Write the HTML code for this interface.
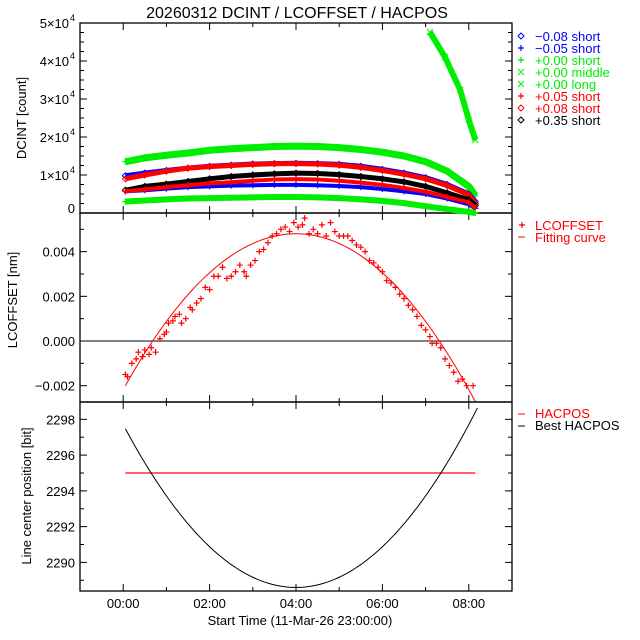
<!DOCTYPE html>
<html><head><meta charset="utf-8"><style>
body{margin:0;background:#fff}
svg{display:block;font-family:"Liberation Sans",sans-serif}
</style></head><body>
<svg id="c" width="640" height="640" xmlns="http://www.w3.org/2000/svg"></svg>
<script>
// ---- data ----
const dcHours=[0.05,0.5,1,1.5,2,2.5,3,3.5,4,4.5,5,5.5,6,6.5,7,7.5,8,8.15];
const dcGreenShort=[13.5,14.5,15.2,15.8,16.5,16.9,17.2,17.5,17.6,17.5,17.2,16.7,16,15,13.5,11,7,4.5];
const dcBlueDiamond=[9.8,10.5,11.2,11.8,12.3,12.6,12.9,13,13.1,13,12.8,12.3,11.5,10.5,9.3,7.5,5,3];
const dcRedDiamond=[9,10,11,11.8,12.2,12.5,12.8,13,13,12.9,12.6,12,11.2,10.2,9,7.2,4.8,2.5];
const dcBlack=[6,7,7.6,8.3,9,9.6,10,10.3,10.5,10.4,10.1,9.6,9,8.2,7,5.3,3.5,2];
const dcRedPlus=[5.7,6.2,6.8,7.3,7.8,8.1,8.5,8.8,8.9,8.8,8.5,8,7.4,6.6,5.6,4.2,2.8,1.3];
const dcBluePlus=[5.7,6,6.4,6.8,7,7.2,7.3,7.4,7.4,7.3,7.1,6.8,6.3,5.7,5,3.8,2.3,1.2];
const dcGreenLow=[3,3.3,3.6,3.8,3.9,4,4.1,4.2,4.2,4.1,3.9,3.6,3.2,2.6,1.8,1,0.3,0];
const midHours=[7.1,7.45,7.8,8.0,8.15];
const dcGreenMiddle=[47.6,41,32.4,24.5,19.2];
const lcHours=[0.05,0.1,0.2,0.3,0.35,0.45,0.5,0.6,0.65,0.75,0.85,0.95,1.0,1.05,1.15,1.2,1.3,1.35,1.45,1.55,1.6,1.7,1.8,1.9,2.0,2.1,2.2,2.3,2.4,2.5,2.6,2.7,2.8,2.85,2.95,3.05,3.15,3.25,3.35,3.45,3.55,3.65,3.75,3.85,3.95,4.05,4.15,4.2,4.3,4.4,4.5,4.6,4.7,4.8,4.9,5.0,5.1,5.2,5.3,5.4,5.5,5.6,5.7,5.8,5.9,6.0,6.1,6.2,6.3,6.4,6.5,6.6,6.7,6.8,6.9,7.0,7.1,7.15,7.25,7.35,7.45,7.55,7.65,7.75,7.85,7.95,8.1];
const lcValues=[-0.0015,-0.0016,-0.001,-0.0008,-0.0005,-0.0007,-0.0004,-0.0006,-0.0003,-0.0005,0.0001,0.0003,0.0004,0.0008,0.0009,0.0011,0.0012,0.0008,0.001,0.0015,0.0014,0.0017,0.0019,0.0024,0.0023,0.0029,0.0029,0.0033,0.0028,0.0029,0.0031,0.0034,0.0031,0.0029,0.0034,0.0036,0.004,0.0041,0.0044,0.0047,0.0048,0.005,0.0051,0.0049,0.0053,0.0051,0.0052,0.0055,0.0048,0.005,0.0048,0.0052,0.0047,0.0053,0.0049,0.0047,0.0047,0.0047,0.0045,0.0043,0.0042,0.004,0.0036,0.0035,0.0033,0.0031,0.0027,0.0026,0.0024,0.0021,0.0019,0.0016,0.0014,0.0011,0.0007,0.0005,0.0002,-0.0001,-0.0001,-0.0003,-0.0008,-0.0011,-0.0014,-0.0018,-0.0017,-0.002,-0.002];
const fitPeak=0.0048, fitCenter=4.0, fitCurv=0.000436;
const hacposValue=2295;
const bestMin=2288.6, bestCenter=4.0, bestCurv=0.569;
const xTickLabels=["00:00","02:00","04:00","06:00","08:00"];
const xTickHours=[0,2,4,6,8];

// ---- helpers ----
const S=document.getElementById('c'), NS='http://www.w3.org/2000/svg';
function el(t,a,txt){const e=document.createElementNS(NS,t);for(const k in a)e.setAttribute(k,a[k]);if(txt!==undefined)e.textContent=txt;S.appendChild(e);return e;}
const L=80,R=512;
const X=h=>L+(h+1)/10*(R-L);
const P1={t:23,b:213,min:0,max:50}, P2={t:213,b:402,min:-0.00273,max:0.00573}, P3={t:402,b:591,min:2288.4,max:2298.97};
const Y=(p,v)=>p.b-(v-p.min)/(p.max-p.min)*(p.b-p.t);

function frame(p,name){
  const r=el('rect',{x:L,y:p.t,width:R-L,height:p.b-p.t,fill:'none',stroke:'#000','stroke-width':1.3});
  
  for(let h=-1;h<=9;h+=1){const x=X(h);const len=(h%2===0)?7:4;
    el('line',{x1:x,y1:p.b,x2:x,y2:p.b-len,stroke:'#000'});el('line',{x1:x,y1:p.t,x2:x,y2:p.t+len,stroke:'#000'});}
}
function yticks(p,step,major,fmt){
  for(let v=Math.ceil(p.min/step)*step;v<=p.max+1e-12;v+=step){
    const y=Y(p,v);const isMaj=Math.abs(Math.round(v/major)*major-v)<step*0.01;const len=isMaj?7:4;
    el('line',{x1:L,y1:y,x2:L+len,y2:y,stroke:'#000'});el('line',{x1:R,y1:y,x2:R-len,y2:y,stroke:'#000'});
    if(isMaj&&fmt){fmt(v,y);}
  }
}
frame(P1,'dcint-panel');frame(P2,'lcoffset-panel');frame(P3,'hacpos-panel');

const t=el('text',{x:297,y:18,'text-anchor':'middle','font-size':16},'20260312 DCINT / LCOFFSET / HACPOS');


yticks(P1,2.5,10,(v,y)=>{
  if(v===0){const e=el('text',{x:75,y:y,'text-anchor':'end','font-size':13},'0');return;}
  const e=el('text',{x:69,y:y+5,'text-anchor':'end','font-size':13},(v/10)+'×10');
  
  el('text',{x:70,y:y-2,'font-size':9},'4');
});
yticks(P2,0.001,0.002,(v,y)=>{
  const s=(Math.abs(v)<1e-9?'0.000':(v<0?'−':'')+Math.abs(v).toFixed(3));
  const e=el('text',{x:75,y:y+5,'text-anchor':'end','font-size':13},s);
  
});
yticks(P3,1,2,(v,y)=>{
  const e=el('text',{x:75,y:y+5,'text-anchor':'end','font-size':13},String(Math.round(v)));
  
});
xTickHours.forEach((h,i)=>{const e=el('text',{x:X(h),y:608,'text-anchor':'middle','font-size':13},xTickLabels[i]);
  });
let e=el('text',{x:300,y:625,'text-anchor':'middle','font-size':13},'Start Time (11-Mar-26 23:00:00)');

function ytitle(txt,x,y,name){const e=el('text',{x:x,y:y,'text-anchor':'middle','font-size':13,transform:`rotate(-90 ${x} ${y})`},txt);
  }
ytitle('DCINT [count]',26,118,'dcint-y-title');ytitle('LCOFFSET [nm]',17,300,'lcoffset-y-title');ytitle('Line center position [bit]',31,496,'hacpos-y-title');

function marker(type,x,y,c){
  if(type==='plus'){return el('path',{d:`M${x-3} ${y}h6M${x} ${y-3}v6`,stroke:c,fill:'none','stroke-width':1.2});}
  if(type==='x'){return el('path',{d:`M${x-3} ${y-3}l6 6M${x-3} ${y+3}l6 -6`,stroke:c,fill:'none'});}
  return el('path',{d:`M${x} ${y-3}l3 3l-3 3l-3 -3z`,stroke:c,fill:'none'});
}
function band(hours,vals,color,type,w,name){
  const pts=hours.map((h,i)=>X(h)+','+Y(P1,vals[i])).join(' ');
  const pl=el('polyline',{points:pts,fill:'none',stroke:color,'stroke-width':w,'stroke-linejoin':'round'});
  
  hours.forEach((h,i)=>{const m=marker(type,X(h),Y(P1,vals[i]),color);});
}
band(dcHours,dcGreenShort,'#00ee00','plus',7,'series-green-short');
band(dcHours,dcBlueDiamond,'#0000ff','diamond',5,'series-minus008-short');
band(dcHours,dcRedDiamond,'#ff0000','diamond',5,'series-plus008-short');
band(dcHours,dcBlack,'#000','diamond',5,'series-plus035-short');
band(dcHours,dcBluePlus,'#0000ff','plus',4,'series-minus005-short');
band(dcHours,dcRedPlus,'#ff0000','plus',4,'series-plus005-short');
band(dcHours,dcGreenLow,'#00ee00','plus',6,'series-green-long');
band(midHours,dcGreenMiddle,'#00ee00','x',6,'series-green-middle');

const leg1=[['diamond','#0000ff','−0.08 short'],['plus','#0000ff','−0.05 short'],['plus','#00ee00','+0.00 short'],['x','#00ee00','+0.00 middle'],['x','#00ee00','+0.00 long'],['plus','#ff0000','+0.05 short'],['diamond','#ff0000','+0.08 short'],['diamond','#000','+0.35 short']];
leg1.forEach((d,i)=>{const y=36+i*12;marker(d[0],521,y,d[1]);const e=el('text',{x:535,y:y+5,'font-size':13,fill:d[1]},d[2]);
  });

el('line',{x1:L,y1:Y(P2,0),x2:R,y2:Y(P2,0),stroke:'#000'});
let fp=[];for(let h=0.05;h<=8.16;h+=0.05){const v=fitPeak-fitCurv*(h-fitCenter)**2;if(v>=P2.min)fp.push(X(h)+','+Y(P2,v));}
let f=el('polyline',{points:fp.join(' '),fill:'none',stroke:'#ff0000','stroke-width':1});

lcHours.forEach((h,i)=>{const m=marker('plus',X(h),Y(P2,lcValues[i]),'#ff0000');});
marker('plus',522,225,'#ff0000');
e=el('text',{x:535,y:230,'font-size':13,fill:'#ff0000'},'LCOFFSET');
el('line',{x1:518,y1:237,x2:525,y2:237,stroke:'#ff0000'});
e=el('text',{x:535,y:242,'font-size':13,fill:'#ff0000'},'Fitting curve');

f=el('line',{x1:X(0.05),y1:Y(P3,hacposValue),x2:X(8.15),y2:Y(P3,hacposValue),stroke:'#ff0000','stroke-width':1.2});

fp=[];for(let h=0.05;h<=8.2;h+=0.05){const v=bestMin+bestCurv*(h-bestCenter)**2;if(v<=P3.max)fp.push(X(h)+','+Y(P3,v));}
f=el('polyline',{points:fp.join(' '),fill:'none',stroke:'#000','stroke-width':1});

el('line',{x1:518,y1:414,x2:525,y2:414,stroke:'#ff0000'});
e=el('text',{x:535,y:418,'font-size':13,fill:'#ff0000'},'HACPOS');
el('line',{x1:518,y1:426,x2:525,y2:426,stroke:'#000'});
e=el('text',{x:535,y:430,'font-size':13},'Best HACPOS');
</script>
</body></html>
